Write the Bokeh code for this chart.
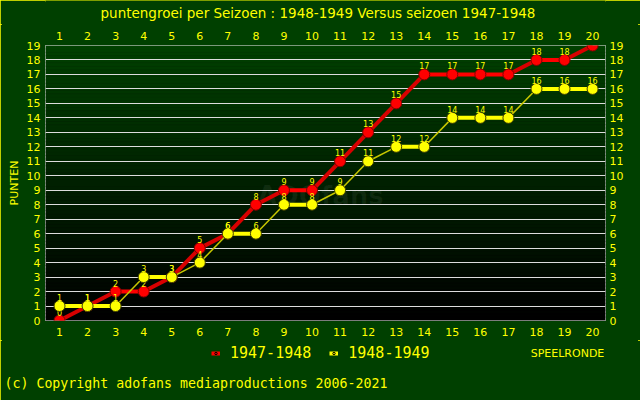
import numpy as np
from bokeh.plotting import figure
from bokeh.layouts import column
from bokeh.models import (Range1d, LinearAxis, FixedTicker, Label, Legend, LegendItem,
                          ColumnDataSource, Title)
from bokeh.core.properties import value
from bokeh.embed import file_html
from bokeh.resources import INLINE

# ---- data ----
rounds = list(range(1, 21))
pts_1947 = [0, 1, 2, 2, 3, 5, 6, 8, 9, 9, 11, 13, 15, 17, 17, 17, 17, 18, 18, 19]
pts_1948 = [1, 1, 1, 3, 3, 4, 6, 6, 8, 8, 9, 11, 12, 12, 14, 14, 14, 16, 16, 16]
name_1947 = "1947-1948"
name_1948 = "1948-1949"
title_text = "puntengroei per Seizoen : 1948-1949 Versus seizoen 1947-1948"
y_label = "PUNTEN"
x_label = "SPEELRONDE"
copyright_text = "(c) Copyright adofans mediaproductions 2006-2021"
y_ticks = list(range(0, 20))

BG = "#004000"
YEL = "#ffff00"
FONT = "DejaVu Sans"
MONO = "DejaVu Sans Mono"
X0, X1 = 0.5, 20.46


def strip(h, bottom=0):
    f = figure(width=640, height=h, output_backend="svg", toolbar_location=None,
               x_range=Range1d(0, 10), y_range=Range1d(0, 10),
               x_axis_location=None, y_axis_location=None,
               min_border_left=45, min_border_right=35, min_border_top=0, min_border_bottom=bottom)
    f.background_fill_color = BG
    f.border_fill_color = BG
    f.outline_line_color = None
    f.grid.visible = False
    return f


# ---- top strip: title ----
t = strip(24)
t.add_layout(Label(x=55, y=12, x_units="screen", y_units="screen", text=title_text,
                   text_color=YEL, text_font=FONT, text_font_size="13.5px",
                   text_align="left", text_baseline="middle"))

# ---- main chart ----
p = figure(width=640, height=316, output_backend="svg", toolbar_location=None,
           x_range=Range1d(X0, X1), y_range=Range1d(0, 19),
           x_axis_location=None, y_axis_location=None,
           min_border_left=45, min_border_right=35, min_border_top=21, min_border_bottom=20)
p.background_fill_color = "#000000"
p.border_fill_color = BG
p.outline_line_color = "#dddddd"
p.outline_line_width = 1

# gradient background (style only)
n = 80
edges = np.linspace(0, 19, n + 1)
cols = []
for i in range(n):
    tt = (i + 0.5) / n
    g = int(round(0x40 * tt))
    cols.append("#00%02x00" % g)
p.quad(left=X0, right=X1, bottom=edges[:-1], top=edges[1:], fill_color=cols,
       line_color=cols, line_width=0.5, level="image")

# grid lines
p.xgrid.visible = False
p.ygrid.ticker = FixedTicker(ticks=y_ticks)
p.ygrid.grid_line_color = "#dddddd"
p.ygrid.grid_line_width = 1
p.ygrid.level = "underlay"

# watermark
p.add_layout(Label(x=10.3, y=8.6, text="ADOfans", text_color="#ffffff", text_alpha=0.06,
                   text_font=FONT, text_font_size="26px", text_font_style="bold",
                   text_align="center", text_baseline="middle", level="underlay"))

# axes
def style_axis(ax, standoff):
    ax.axis_line_color = None
    ax.major_tick_line_color = None
    ax.minor_tick_line_color = None
    ax.major_tick_out = 0
    ax.major_tick_in = 0
    ax.minor_tick_out = 0
    ax.minor_tick_in = 0
    ax.major_label_text_color = YEL
    ax.major_label_text_font = FONT
    ax.major_label_text_font_size = "11px"
    ax.major_label_standoff = standoff

bx = LinearAxis(ticker=FixedTicker(ticks=rounds)); style_axis(bx, 7); p.add_layout(bx, "below")
tx = LinearAxis(ticker=FixedTicker(ticks=rounds)); style_axis(tx, 6); p.add_layout(tx, "above")
ly = LinearAxis(ticker=FixedTicker(ticks=y_ticks)); style_axis(ly, 5)
ly.axis_label = y_label
ly.axis_label_text_color = YEL
ly.axis_label_text_font = FONT
ly.axis_label_text_font_size = "11px"
ly.axis_label_text_font_style = "normal"
ly.axis_label_standoff = 3
p.add_layout(ly, "left")
ry = LinearAxis(ticker=FixedTicker(ticks=y_ticks)); style_axis(ry, 4); p.add_layout(ry, "right")

def draw_series(vals, col, diag_col, diag_w, flat_w, line_col_marker):
    x0 = rounds[:-1]; x1 = rounds[1:]
    y0 = vals[:-1]; y1 = vals[1:]
    flat = [a == b for a, b in zip(y0, y1)]
    def pick(arr, want):
        return [a for a, f in zip(arr, flat) if f == want]
    sf = ColumnDataSource(dict(x0=pick(x0, True), x1=pick(x1, True), y0=pick(y0, True), y1=pick(y1, True)))
    sd = ColumnDataSource(dict(x0=pick(x0, False), x1=pick(x1, False), y0=pick(y0, False), y1=pick(y1, False)))
    p.segment("x0", "y0", "x1", "y1", source=sd, line_color=diag_col, line_width=diag_w)
    p.segment("x0", "y0", "x1", "y1", source=sf, line_color=col, line_width=flat_w)
    p.scatter(rounds, vals, size=11, fill_color=col, line_color=line_col_marker, line_width=1)
    p.text(rounds, vals, text=[str(v) for v in vals], text_color=YEL, text_font=value(FONT),
           text_font_size="8px", text_align="center", text_baseline="bottom", y_offset=-5)

draw_series(pts_1947, "#ff0000", "#d80000", 4, 4, "#800000")
draw_series(pts_1948, "#ffff00", "#c8c800", 1.5, 4, "#404000")

# ---- bottom strip: legend, x-axis name, copyright ----
s = strip(60, bottom=30)
hidden = dict(x=[-5, -4], y=[-5, -5])
lr1 = s.line(hidden["x"], hidden["y"], line_color="#ff0000", line_width=4)
lm1 = s.scatter(hidden["x"], hidden["y"], size=4, fill_color="#ff0000", line_color="#000000")
lr2 = s.line(hidden["x"], hidden["y"], line_color="#ffff00", line_width=4)
lm2 = s.scatter(hidden["x"], hidden["y"], size=4, fill_color="#ffff00", line_color="#000000")
leg = Legend(items=[LegendItem(label=name_1947, renderers=[lr1, lm1]),
                    LegendItem(label=name_1948, renderers=[lr2, lm2])],
             orientation="horizontal", location=(166, 8),
             label_text_color=YEL, label_text_font=MONO, label_text_font_size="15px",
             glyph_width=9, glyph_height=6, label_standoff=10, spacing=18, padding=0, margin=0,
             background_fill_alpha=0, border_line_color=None)
s.add_layout(leg, "center")

s.add_layout(Label(x=522, y=17, x_units="screen", y_units="screen", text=x_label,
                   text_color=YEL, text_font=FONT, text_font_size="11px",
                   text_align="center", text_baseline="middle"))
s.add_layout(Title(text=copyright_text, align="left", text_color=YEL, text_font=MONO,
                   text_font_size="13.25px", text_font_style="normal", offset=-41, standoff=7), "below")

page = column(t, p, s, spacing=0,
              styles={"outline": "2px solid #ffff00", "outline-offset": "-2px",
                      "background-color": BG})

open("out.html", "w").write(file_html(page, INLINE))
